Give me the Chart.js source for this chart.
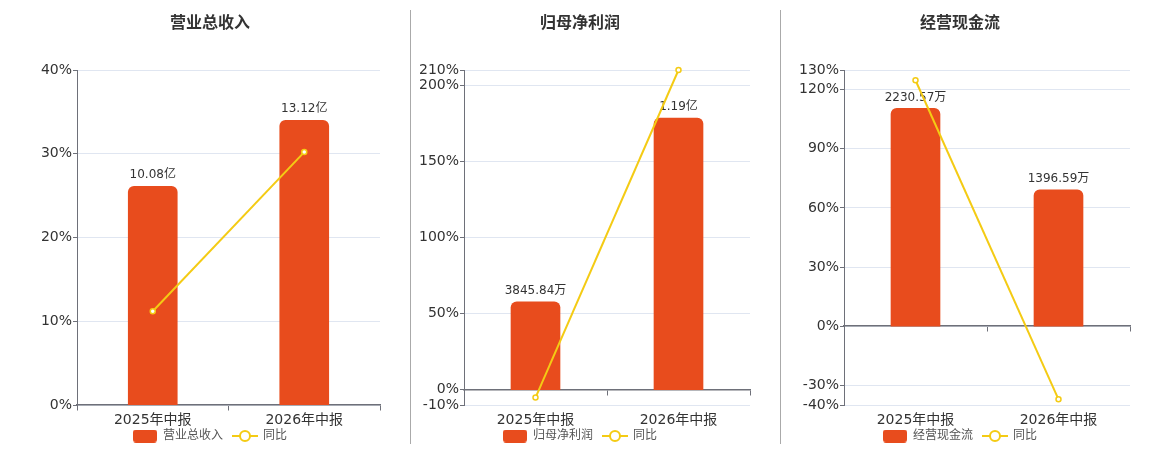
<!DOCTYPE html>
<html><head><meta charset="utf-8">
<script src="https://cdn.jsdelivr.net/npm/chart.js@4.4.1/dist/chart.umd.min.js"></script>
<style>
html,body{margin:0;padding:0;background:#fff;width:1160px;height:450px;overflow:hidden}
#wrap{position:relative;width:1160px;height:450px}
.c{position:absolute;top:0;height:450px}
.sep{position:absolute;top:10px;height:434px;width:1px;background:#aaaaaa;z-index:2}
</style></head><body>
<div id="wrap">
<div class="c" style="left:0;width:410px"><canvas id="c1"></canvas></div>
<div class="c" style="left:410px;width:370px"><canvas id="c2"></canvas></div>
<div class="c" style="left:780px;width:380px"><canvas id="c3"></canvas></div>
<div class="sep" style="left:410px"></div>
<div class="sep" style="left:780px"></div>
</div>
<script>
// ---- data ----
const categories = ['2025年中报', '2026年中报'];

const revenueTitle = '营业总收入';
const revenueValues = [10.08, 13.12];          // 亿
const revenueLabels = ['10.08亿', '13.12亿'];
const revenueYoy = [11.2, 30.2];               // %
const revenueTicks = [0, 10, 20, 30, 40];

const profitTitle = '归母净利润';
const profitValues = [3845.84, 11900];         // 万
const profitLabels = ['3845.84万', '1.19亿'];
const profitYoy = [-5.1, 210];
const profitTicks = [-10, 0, 50, 100, 150, 200, 210];

const cashTitle = '经营现金流';
const cashValues = [2230.57, 1396.59];         // 万
const cashLabels = ['2230.57万', '1396.59万'];
const cashYoy = [124.8, -37.1];
const cashTicks = [-40, -30, 0, 30, 60, 90, 120, 130];

const yoyLabel = '同比';

// ---- style ----
const FONT = '"DejaVu Sans", "Noto Sans CJK SC", sans-serif';
const BAR_COLOR = '#E84C1D';
const LINE_COLOR = '#F4CB14';
const AXIS_COLOR = '#6E7079';
const GRID_COLOR = '#E0E6F1';
Chart.defaults.font.family = FONT;

function makeBarIcon() {
  const c = document.createElement('canvas'); c.width = 24; c.height = 13;
  const g = c.getContext('2d'); g.fillStyle = BAR_COLOR;
  g.beginPath(); g.roundRect(0, 0, 24, 13, 3); g.fill();
  return c;
}
function makeLineIcon() {
  const c = document.createElement('canvas'); c.width = 26; c.height = 14;
  const g = c.getContext('2d'); g.strokeStyle = LINE_COLOR; g.lineWidth = 2;
  g.beginPath(); g.moveTo(0, 7); g.lineTo(26, 7); g.stroke();
  g.beginPath(); g.arc(13, 7, 5, 0, Math.PI * 2); g.fillStyle = '#fff'; g.fill(); g.stroke();
  return c;
}
const barIcon = makeBarIcon();
const lineIcon = makeLineIcon();

function build(id, title, barName, values, valueLabels, yoy, ticks, leftPad, yWidth) {
  const yMin = ticks[0], yMax = ticks[ticks.length - 1];
  const y1Max = Math.max(...values) / 0.85;
  const y1Min = y1Max * yMin / yMax;
  const labelPlugin = {
    id: 'valueLabels',
    afterDatasetDraw(chart, args) {
      if (args.index !== 0) return;
      const ctx = chart.ctx;
      ctx.save();
      ctx.font = '12px ' + FONT;
      ctx.fillStyle = '#333';
      ctx.textAlign = 'center';
      ctx.textBaseline = 'middle';
      args.meta.data.forEach((el, i) => ctx.fillText(valueLabels[i], el.x, el.y - 11));
      ctx.restore();
    }
  };
  new Chart(document.getElementById(id), {
    type: 'bar',
    data: {
      labels: categories,
      datasets: [
        { type: 'bar', label: barName, data: values, yAxisID: 'y1', xAxisID: 'x', order: 1,
          backgroundColor: BAR_COLOR, barThickness: 49,
          borderRadius: { topLeft: 6, topRight: 6, bottomLeft: 0, bottomRight: 0 }, borderSkipped: false },
        { type: 'line', label: yoyLabel, data: yoy, yAxisID: 'y', xAxisID: 'x', order: 0,
          borderColor: LINE_COLOR, borderWidth: 2, tension: 0, fill: false, clip: false,
          pointRadius: 2.5, pointBorderWidth: 1.5, pointBackgroundColor: '#fff', pointBorderColor: LINE_COLOR }
      ]
    },
    options: {
      responsive: true, maintainAspectRatio: false, animation: false, events: [],
      layout: { padding: { left: leftPad, right: 30, top: 0, bottom: -2 } },
      plugins: {
        title: { display: true, text: title, color: '#333', font: { size: 16, weight: 'bold' },
                 padding: { top: 14, bottom: 36.8 } },
        tooltip: { enabled: false },
        legend: {
          position: 'bottom',
          labels: {
            usePointStyle: true, pointStyleWidth: 24, padding: 10, color: '#555', font: { size: 12 },
            generateLabels: (chart) => chart.data.datasets.map((ds, i) => ({
              text: ds.label, pointStyle: i === 0 ? barIcon : lineIcon, fillStyle: i === 0 ? BAR_COLOR : '#fff',
              strokeStyle: i === 0 ? BAR_COLOR : LINE_COLOR, lineWidth: 0, hidden: false, datasetIndex: i, fontColor: '#555'
            }))
          }
        }
      },
      scales: {
        x: {
          type: 'category', position: { y: 0 }, offset: true,
          grid: { offset: true, drawOnChartArea: false, drawTicks: true, tickLength: 5, color: AXIS_COLOR, lineWidth: 1 },
          border: { color: AXIS_COLOR, width: 1.5 },
          ticks: { display: false },
          afterFit: (s) => { s.height = 0; }
        },
        x2: {
          type: 'category', position: 'bottom', offset: true,
          grid: { display: false, drawTicks: false },
          border: { display: false },
          ticks: { color: '#333', font: { size: 14 }, padding: -23.4, mirror: true },
          afterFit: (s) => { s.height = 15; }
        },
        y: {
          position: 'left', min: yMin, max: yMax,
          afterBuildTicks: (s) => { s.ticks = ticks.map(v => ({ value: v })); },
          afterFit: (s) => { s.width = yWidth; },
          grid: { color: GRID_COLOR, tickColor: AXIS_COLOR, tickLength: 4, lineWidth: 1 },
          border: { color: AXIS_COLOR, width: 1 },
          ticks: { padding: 1, color: '#333', font: { size: 14 }, callback: (v) => v + '%' }
        },
        y1: { display: false, min: y1Min, max: y1Max }
      }
    },
    plugins: [labelPlugin]
  });
}

build('c1', revenueTitle, revenueTitle, revenueValues, revenueLabels, revenueYoy, revenueTicks, 40, 37);
build('c2', profitTitle, profitTitle, profitValues, profitLabels, profitYoy, profitTicks, 0, 54);
build('c3', cashTitle, cashTitle, cashValues, cashLabels, cashYoy, cashTicks, 10, 54);
</script>
</body></html>
